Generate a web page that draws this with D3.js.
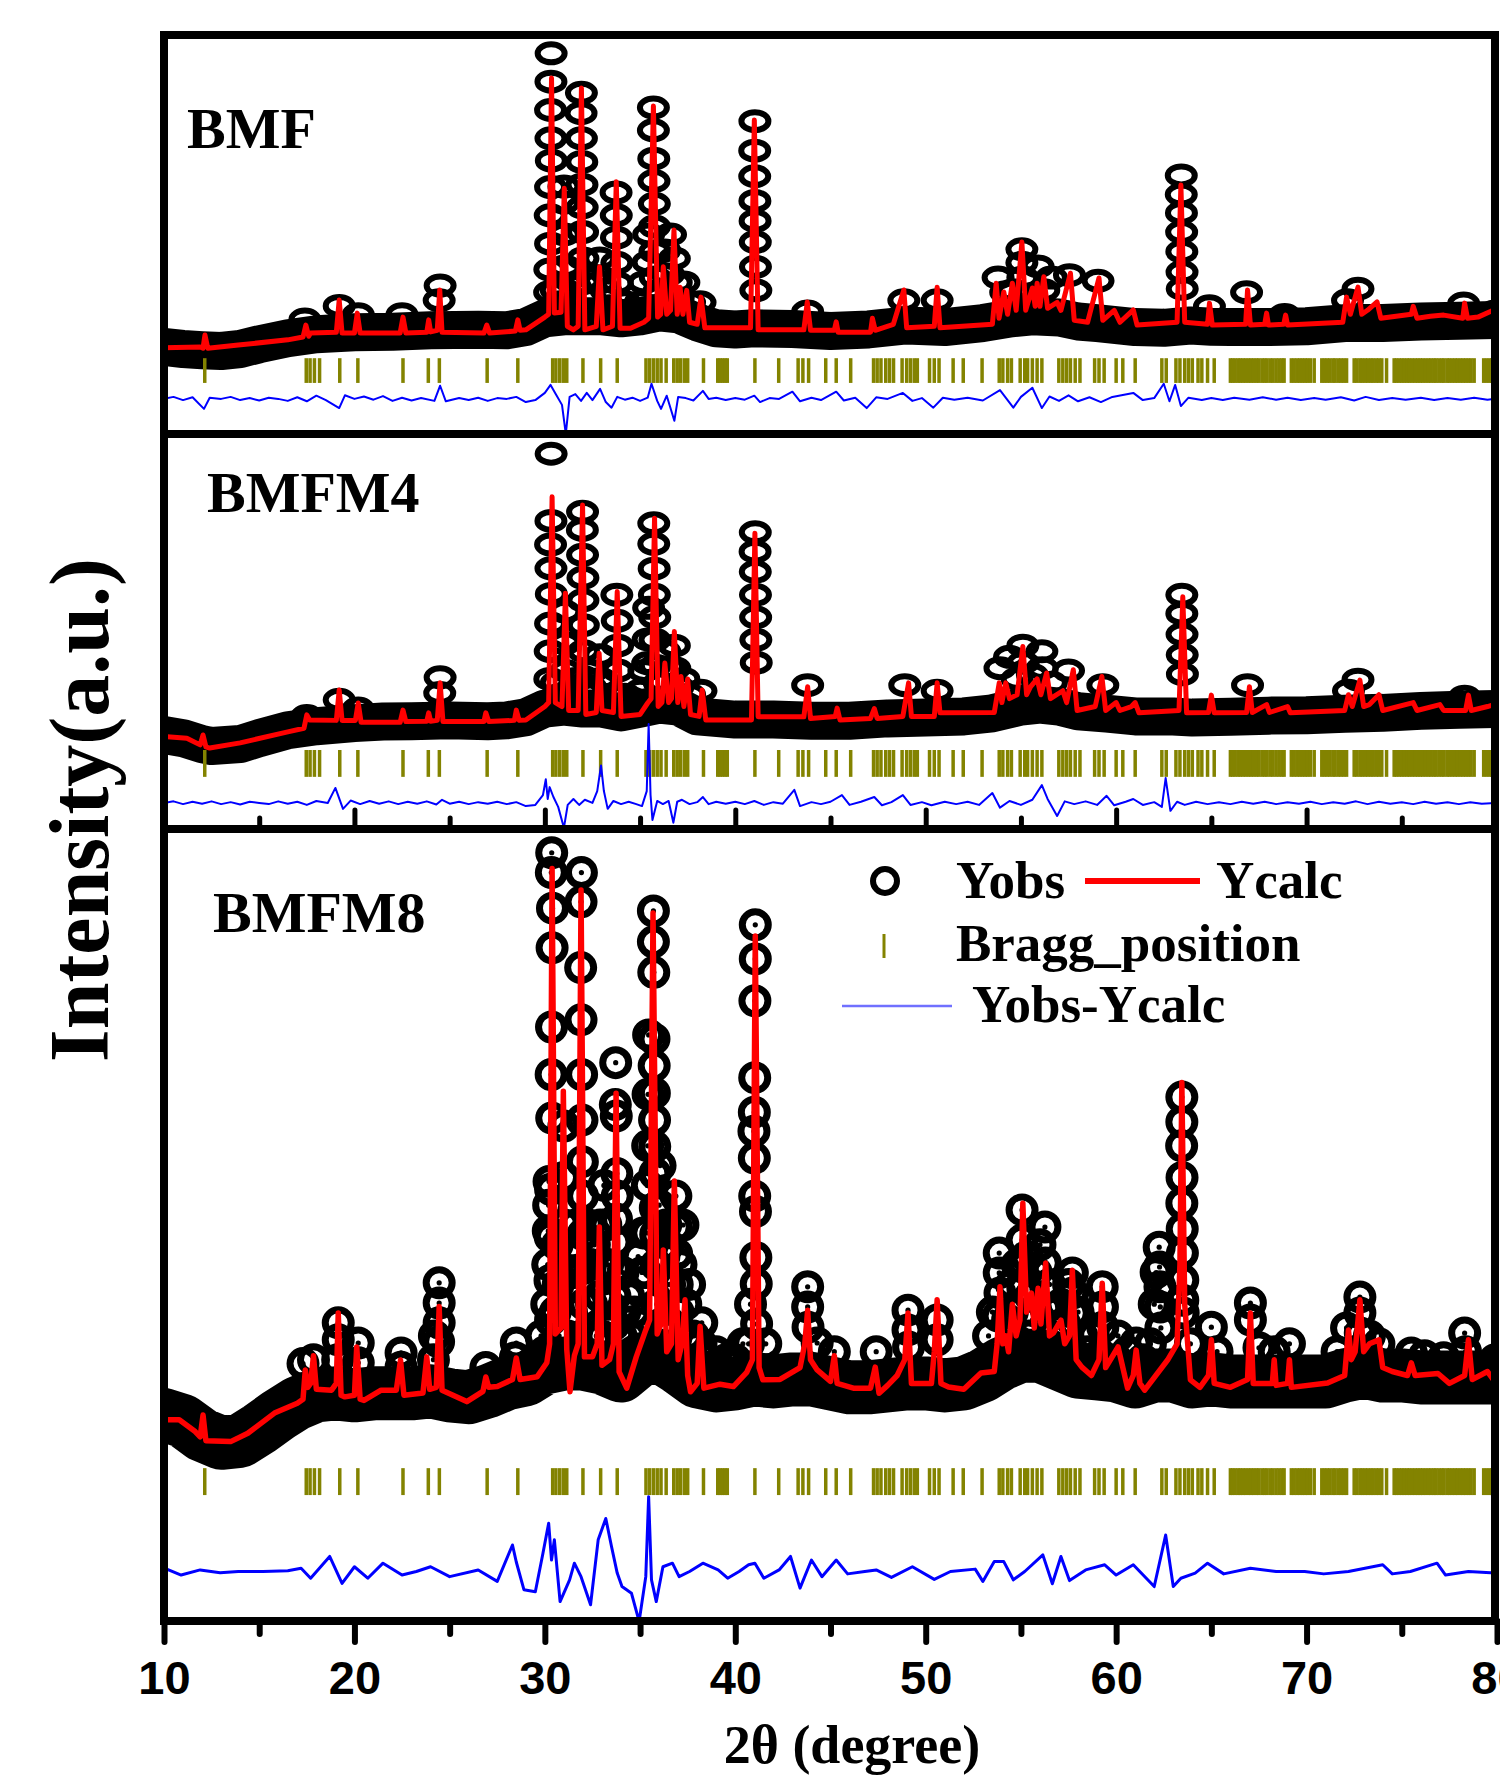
<!DOCTYPE html>
<html lang="en">
<head>
<meta charset="utf-8">
<title>Rietveld refinement: BMF, BMFM4, BMFM8</title>
<script src="https://d3js.org/d3.v7.min.js"></script>
<style>
  body { margin: 0; background: #fff; }
  .serif { font-family: "Liberation Serif", "Times New Roman", serif; font-weight: bold; }
  .axis text { font-family: "Liberation Sans", Arial, sans-serif; font-weight: bold; font-size: 47px; fill: #000; }
</style>
</head>
<body>
<script>
var width = 1500;
var height = 1776;

// Bragg reflection positions (2theta), same set drawn in every panel
var bragg = [12.14, 17.47, 17.67, 17.9, 18.17, 19.23, 20.18, 22.55, 23.88, 24.46, 26.97, 28.58,
  30.41, 30.58, 30.78, 30.97, 31.15, 32.0, 32.93, 33.8, 35.31, 35.5, 35.7, 35.9, 36.1, 36.37,
  36.77, 36.95, 37.13, 37.33, 37.5, 38.33, 39.08, 39.2, 39.33, 39.46, 39.58, 41.03, 42.28,
  43.3, 43.55, 43.85, 44.75, 45.3, 46.06, 47.26, 47.45, 47.65, 47.9, 48.1, 48.31, 48.76, 49.0,
  49.2, 49.4, 49.56, 50.2, 50.45, 50.7, 51.44, 51.97, 52.96, 53.86, 54.05, 54.3, 54.5, 54.96,
  55.2, 55.35, 55.6, 55.85, 56.1, 56.99, 57.2, 57.4, 57.6, 57.85, 58.1, 58.87, 59.1, 59.37,
  60.0, 60.35, 61.0, 62.4, 62.63, 63.14, 63.35, 63.6, 63.8, 64.0, 64.3, 64.5, 64.8, 65.15,
  66.0, 66.12, 66.25, 66.4, 66.52, 66.66, 66.8, 66.95, 67.08, 67.22, 67.37, 67.5, 67.66, 67.8,
  67.93, 68.1, 68.24, 68.4, 68.55, 68.7, 68.82, 69.2, 69.35, 69.5, 69.64, 69.78, 69.92, 70.05,
  70.2, 70.4, 70.8, 70.94, 71.08, 71.22, 71.38, 71.5, 71.66, 71.8, 71.95, 72.1, 72.5, 72.64,
  72.8, 72.93, 73.08, 73.22, 73.37, 73.5, 73.66, 73.8, 73.95, 74.2, 74.6, 74.72, 74.86, 75.0,
  75.13, 75.28, 75.4, 75.55, 75.7, 75.84, 75.97, 76.1, 76.25, 76.4, 76.53, 76.68, 76.8, 76.95,
  77.1, 77.22, 77.38, 77.5, 77.65, 77.8, 77.93, 78.08, 78.22, 78.36, 78.5, 78.64, 78.8, 79.3,
  79.45, 79.6, 79.72, 79.86, 80.0];

var xTicks = [10, 20, 30, 40, 50, 60, 70, 80];
var xMinorTicks = [15, 25, 35, 45, 55, 65, 75];

// ---------- BMF ----------
var calcBMF = [[10,21.6],[11.9,21.8],[12.05,21.5],[12.15,24.8],[12.3,21.5],[13.9,22.3],[16.5,23.6],
  [17.3,24.3],[17.45,27.3],[17.6,24.5],[17.7,25.3],[19.05,25.5],[19.2,33.6],[19.35,25.3],[20.0,25.3],
  [20.15,30.3],[20.3,25.3],[22.4,25.3],[22.55,29.3],[22.7,25.3],[23.8,25.5],[23.9,28.6],[24.0,25.6],
  [24.35,26],[24.48,36.1],[24.6,25.5],[26.8,25.3],[26.95,27.3],[27.1,25.3],[28.45,25.8],[28.58,28.6],
  [28.7,26],[29.0,26.1],[30.0,29.3],[30.2,30],[30.35,89.2],[30.5,30.3],[30.85,30.5],[31.02,61.6],
  [31.18,27],[31.5,26.1],[31.75,27],[31.92,86.7],[32.1,26.1],[32.7,27],[32.87,41.9],[33.05,26.1],
  [33.55,27],[33.75,63.2],[33.95,26.5],[34.5,26.5],[35.2,28],[35.45,29],[35.7,82.2],[35.92,29.3],
  [36.08,30],[36.22,41.9],[36.4,30],[36.6,31],[36.78,51.1],[36.95,30],[37.1,36.8],[37.25,30],
  [37.45,36],[37.6,28],[38.0,27.5],[38.2,34.3],[38.4,26.6],[40.8,26.6],[41.0,78.7],[41.2,26.1],
  [43.6,26.1],[43.78,33.1],[43.95,26],[45.2,26],[45.3,28.1],[45.4,25.5],[47.1,25.5],[47.2,29],
  [47.35,26],[48.3,27.5],[48.85,36.1],[49.0,26.6],[50.45,27],[50.6,36.8],[50.75,26.6],[53.5,27.5],
  [53.7,37.8],[53.85,29],[54.1,35.6],[54.3,30],[54.55,37.8],[54.75,31],[55.05,48.1],[55.25,31],
  [55.6,36.6],[55.75,32],[55.85,37.8],[56.0,32],[56.2,39.4],[56.4,31.5],[56.9,33],[57.1,31],
  [57.6,40.3],[57.8,28.5],[58.5,28],[59.1,39.1],[59.3,28.5],[59.9,31],[60.2,28],[60.9,31.1],
  [61.1,27.3],[63.2,28],[63.4,62.4],[63.6,28],[64.8,27.5],[64.9,32.8],[65.05,27.3],[66.8,27.5],
  [66.9,36.1],[67.05,27.3],[67.8,27.5],[67.9,30.3],[68.0,27.3],[68.8,27.5],[68.9,29.8],[69.0,27.3],
  [71.9,28],[72.1,34.3],[72.3,30],[72.7,36.8],[72.9,30],[73.2,31],[73.7,33.1],[73.9,29],[75.5,30],
  [75.6,32],[75.8,29],[76.5,29.5],[77.2,29.8],[78.2,29],[78.3,32.8],[78.45,29],[79.0,29.3],
  [79.8,31],[80,30]];
var obsBaseBMF = [[10,21.8],[11,21.3],[12,21],[13,20.8],[14,21.3],[15,22.5],[16.5,24],[18,25],
  [20,25.5],[22,25.6],[24,26],[26.5,26.1],[28,26],[29,26.8],[30,29],[31,29.5],[32,29.5],[33,29.5],
  [34,29],[35,29.5],[36,30.5],[37,30],[38,28],[39,26.5],[40,26.2],[41,26.5],[43,26.3],[45,25.8],
  [47,26.2],[49,27.2],[51,26.8],[53,27.8],[54.5,29],[55.6,29.5],[57,29.2],[58,28.2],[59,27.8],
  [61,26.8],[62.5,26.6],[63.9,27.2],[65,26.9],[66,26.8],[68,26.8],[70,27],[72,27.8],[74,27.8],
  [76,28.2],[78,28.4],[80,28.6]];
var obsPeakBMF = [[30.33,95.4],[30.32,88.3],[30.3,81.2],[30.32,74.1],[30.34,68.5],[30.3,61.9],
  [30.28,54.8],[30.3,47.7],[30.26,41.2],[30.25,35.5],[31.0,62],[31.0,58],[31.02,50],[31.05,42],
  [31.06,36],[31.92,85.5],[31.9,80.4],[31.92,74.1],[31.94,68.2],[31.95,62.5],[31.96,56.8],
  [31.98,50.6],[32.0,44],[32.02,37.8],[32.88,44],[32.9,38],[33.74,60.5],[33.75,54.8],[33.76,49.2],
  [33.78,42.9],[33.8,37.8],[35.7,81.8],[35.7,76.1],[35.72,69],[35.73,63.4],[35.75,57.7],
  [35.76,52],[35.78,45.7],[35.8,39.2],[35.45,50],[35.42,43],[36.3,46],[36.6,50],[36.8,44],
  [36.9,38],[37.3,38],[38.15,33],[41.03,78.4],[41.02,71],[41.02,64.6],[41.03,58.4],[41.04,53.4],
  [41.05,48.1],[41.06,41.9],[41.08,36],[24.5,37.2],[24.45,33.5],[19.2,32.1],[17.4,28.7],
  [20.2,30],[22.5,30],[43.8,30.7],[48.85,33.5],[50.6,33.5],[53.8,39.2],[54.2,35.5],[55.05,46.3],
  [55.05,42.9],[55.1,39.2],[55.9,42],[56.6,39.2],[57.55,39.8],[59.05,38.4],[63.42,64.8],
  [63.42,60],[63.43,55.4],[63.44,50.6],[63.45,45.7],[63.46,40.6],[63.47,36.4],[64.9,32],
  [66.85,35.5],[68.85,29.8],[72.15,33.5],[72.7,36.4],[78.25,32.7],[79.9,30.7],
  [30.6,36],[30.8,33],[31.4,33],[31.6,37],[32.4,34],[32.5,39],[33.2,36],[33.4,32],[34.2,33],
  [34.6,31],[35.0,33],[35.2,38],[36.0,36],[36.5,40],[37.0,34],[37.6,33],[37.9,30],[54.6,36],
  [56.2,36],[55.5,35]];
var diffBMF = [[10,0],[10.5,0.5],[11,-0.3],[11.5,0.4],[12.1,-2.5],[12.4,0.3],[13,0],[13.5,0.5],
  [14,-0.3],[14.5,0.2],[15,-0.4],[15.5,0.3],[16,0],[16.5,-0.5],[17,0.4],[17.5,-0.6],[18,0.8],
  [18.5,-0.3],[19.2,-2.3],[19.5,0.9],[20,0],[20.5,0.6],[21,-0.2],[21.5,0.7],[22,-0.5],[22.5,0.3],
  [23,-0.4],[23.5,0.2],[24.2,-0.5],[24.5,3.3],[24.8,-0.6],[25.5,0.2],[26,-0.3],[26.5,0.3],
  [27,-0.5],[27.5,0.2],[28,0],[28.5,0.5],[29,-0.8],[29.5,-0.3],[30.0,1.5],[30.3,3.5],[30.6,1],
  [30.9,-1.5],[31.1,-8.8],[31.3,0.5],[31.6,1.2],[31.9,-0.5],[32.2,1.5],[32.5,-0.3],[32.9,2.5],
  [33.2,-0.8],[33.5,-2.2],[33.8,0.5],[34.2,-0.2],[34.6,0.3],[35.0,-0.5],[35.4,0.3],[35.6,3.8],
  [35.9,-0.5],[36.1,-2.5],[36.4,0.8],[36.8,-5.5],[37.0,0.5],[37.4,0.2],[37.8,-0.4],[38.3,2.0],
  [38.6,0],[39,0.3],[39.5,-0.3],[40,0.2],[40.5,-0.2],[41,0.8],[41.3,-0.8],[41.8,0.2],[42.3,0],
  [43,1.8],[43.4,-0.6],[44,0.3],[44.5,-0.3],[45.3,1.8],[45.7,-0.4],[46.3,0.3],[46.9,-2.3],
  [47.4,0.4],[48,0],[48.8,1.5],[49.3,-0.5],[49.8,0.2],[50.4,-2.2],[50.9,0.3],[51.5,-0.2],
  [52.2,0.3],[53,-0.4],[53.9,2.2],[54.6,-2.2],[55.0,0.5],[55.6,2.8],[56.1,-2.3],[56.5,0.6],
  [57,-0.5],[57.5,0.9],[58,-0.6],[58.6,0.4],[59.2,-0.8],[59.8,0.5],[60.9,1.5],[61.4,-0.3],
  [62,0.2],[62.5,3.8],[62.8,-0.6],[63.1,3.5],[63.4,-1.8],[63.8,0.3],[64.5,-0.3],[65,0.2],
  [65.6,-0.3],[66.2,0.3],[67,-0.2],[67.7,0.4],[68.4,-0.2],[69,0.3],[69.7,-0.3],[70.4,0.2],
  [71,-0.2],[71.8,0.4],[72.5,-0.4],[73.1,0.5],[73.8,-0.3],[74.5,0.2],[75.2,-0.2],[76,0.3],
  [76.7,-0.3],[77.4,0.2],[78.1,-0.2],[78.8,0.3],[79.5,-0.2],[80,0.1]];

// ---------- BMFM4 ----------
var calcBMFM4 = [[10,23.4],[11.2,23],[11.9,21.3],[12.05,23.8],[12.2,20.8],[12.4,20.5],[14.0,21.8],
  [16.5,24.6],[17.35,25.5],[17.5,28.9],[17.65,27.6],[19.05,27.5],[19.2,35.2],[19.35,27.5],
  [20.05,27.5],[20.2,31.9],[20.35,27],[22.4,27],[22.55,30.1],[22.7,27.2],[23.8,27.3],[23.9,29.4],
  [24.0,27.3],[24.35,27.5],[24.5,37],[24.65,27.2],[26.8,27.2],[26.9,29.4],[27.05,27.2],[28.4,27.5],
  [28.5,30.1],[28.65,27.5],[29.0,27.6],[30.0,31],[30.2,32],[30.38,84.1],[30.55,32],[30.9,31],
  [31.08,59.7],[31.25,30],[31.75,30],[31.98,82],[32.15,29],[32.7,29.5],[32.85,44.5],[33.0,30],
  [33.6,29.5],[33.8,60.1],[34.0,28.5],[35.0,29],[35.4,31.9],[35.58,33],[35.76,78.7],[35.95,31],
  [36.15,32],[36.3,42],[36.5,32],[36.65,33],[36.8,50],[36.98,32],[37.15,38.6],[37.3,31],[37.5,38],
  [37.65,29],[38.1,28.5],[38.26,35.2],[38.45,27.6],[40.85,27.6],[41.03,74.9],[41.2,28.4],
  [43.6,28.4],[43.8,36],[43.95,28],[45.25,28.5],[45.35,30.6],[45.5,27.6],[47.1,28],[47.3,30.5],
  [47.45,28],[48.8,28.5],[49.1,37],[49.25,28.5],[50.45,28.5],[50.6,37],[50.75,29.4],[53.6,29.5],
  [53.86,37],[54.0,32],[54.2,37],[54.4,33],[54.8,34],[55.1,46.2],[55.3,34],[55.5,36],[55.85,38],
  [56.05,34],[56.35,39.5],[56.55,33],[57.2,35],[57.4,32],[57.75,40.3],[57.95,30],[58.9,31],
  [59.25,38.6],[59.45,30],[60.0,32],[60.2,30],[60.8,31],[61.0,32],[61.2,29.4],[63.3,30],
  [63.5,58.8],[63.7,29.4],[64.85,29.5],[65.0,33.9],[65.15,29.4],[66.85,29.5],[67.0,36],
  [67.15,29.5],[67.9,31.5],[68.05,29.5],[69.0,31],[69.15,29.4],[72.0,30],[72.2,34],[72.4,31],
  [72.8,37.7],[73.0,31],[73.3,31.5],[73.8,34],[74.0,30],[75.6,32],[75.8,30],[77.0,31.5],[77.2,30],
  [78.35,30],[78.5,33.9],[78.65,30],[79.5,31],[79.85,31.5],[80,31]];
var obsBaseBMFM4 = [[10,23.8],[11,23],[12,21.5],[12.5,21],[14,21.5],[15,23],[16.5,25],[18,26],
  [20,26.8],[21.5,27.2],[23,27.3],[25,27.5],[27,27.3],[28,27.5],[29,28.3],[30,30.5],[31,31],
  [32,30.5],[33,30.5],[34,29.5],[35,30.5],[36,31.5],[37,31],[38,28.5],[40,27.7],[42,27.7],
  [44,27.4],[46,27.4],[48,28],[50,28.2],[52,28.5],[53.5,29.3],[55,31],[56,31.5],[57,31],[58,29.8],
  [59.5,29.2],[61,28.5],[63,28.5],[64,28.2],[66,28.4],[68,28.7],[70,28.8],[72,29.2],[74,29.4],
  [76,29.9],[78,30.2],[80,30.4]];
var obsPeakBMFM4 = [[30.33,95],[30.32,78],[30.3,72],[30.32,66],[30.34,59.5],[30.3,52],[30.28,45],
  [30.26,38],[31.05,55],[31.05,47],[31.1,40],[31.98,80.3],[31.97,75.7],[31.98,69.4],[32.0,63.6],
  [32.0,57.9],[32.02,51.6],[32.03,45],[32.05,38.4],[32.88,44],[32.92,38],[33.78,59.3],[33.8,52.7],
  [33.82,46.4],[33.84,40.1],[35.72,77.4],[35.72,72.2],[35.74,65.9],[35.75,59.3],[35.77,53.6],
  [35.78,47.9],[35.8,41.3],[35.45,56],[35.42,48],[35.4,42],[36.3,45],[36.8,46.4],[36.82,40.7],
  [37.3,38],[38.2,35],[41.05,75.1],[41.04,70.2],[41.05,65.1],[41.06,59.3],[41.07,53.6],
  [41.08,47.9],[41.1,42.1],[43.8,36.4],[19.2,32.7],[24.5,38.4],[24.48,34.4],[17.5,28.6],
  [20.2,30.5],[48.9,36.4],[50.6,35],[53.9,40.7],[54.4,43.6],[55.1,46.4],[55.12,42.1],[56.1,45],
  [56.12,40.7],[57.5,40.1],[59.3,36.4],[63.45,59.3],[63.45,54.5],[63.46,49.3],[63.47,44.1],
  [63.48,39.2],[66.9,36.4],[72.7,37.8],[72.2,35],[78.3,33.5],[80,32],
  [30.6,37],[30.8,34],[31.4,35],[31.6,38],[32.4,36],[32.5,40],[33.2,37],[33.4,34],[34.2,34],
  [34.6,33],[35.0,35],[35.2,40],[36.0,37],[36.5,41],[37.0,36],[37.6,34],[54.8,38],[55.6,39],
  [56.6,37]];
var diffBMFM4 = [[10,0],[10.5,0.4],[11,-0.3],[11.5,0.3],[12,-0.2],[12.5,0.4],[13,-0.3],[13.5,0.2],
  [14,-0.4],[14.5,0.3],[15,0],[15.5,-0.3],[16,0.4],[16.5,-0.2],[17,0.3],[17.5,-0.5],[18,0.5],
  [18.6,0],[19.0,3.8],[19.4,-1.5],[19.8,0.6],[20.3,-0.3],[20.8,0.5],[21.3,-0.2],[21.8,0.4],
  [22.3,-0.3],[22.8,0.3],[23.3,-0.2],[23.8,0.4],[24.3,-0.4],[24.6,0.8],[25,-0.2],[25.5,0.3],
  [26,-0.3],[26.5,0.2],[27,-0.2],[27.5,0.3],[28,-0.3],[28.5,0.2],[29,-0.8],[29.5,-0.5],[29.9,2],
  [30.05,6],[30.15,1],[30.25,4],[30.45,1.5],[30.7,-1],[31.0,-6.3],[31.2,-0.5],[31.5,1],
  [31.8,-0.5],[32.1,0.8],[32.5,0],[32.75,3],[32.95,9.5],[33.1,3],[33.3,-1.5],[33.6,0.5],[34,-0.3],
  [34.4,0.3],[34.8,-0.3],[35.1,-0.8],[35.35,3],[35.45,20],[35.55,2],[35.65,-4.3],[35.9,0.5],
  [36.2,-0.3],[36.5,0.5],[36.75,-5],[36.95,0.3],[37.2,0.8],[37.6,-0.3],[38.0,0.2],[38.3,1.5],
  [38.6,-0.3],[39,0.3],[39.5,-0.2],[40,0.3],[40.5,-0.3],[41,0.5],[41.5,-0.5],[42,0.2],[42.5,-0.2],
  [43.1,3.3],[43.4,-0.8],[44,0.2],[44.5,-0.3],[45,0.3],[45.6,2],[46,-0.5],[46.6,0.3],[47.3,1.5],
  [47.7,-0.6],[48.2,0.2],[48.8,2],[49.2,-0.5],[49.8,0.2],[50.3,-0.6],[51,0.3],[51.6,-0.3],
  [52.2,0.3],[52.8,-0.5],[53.5,2.5],[53.9,-1.2],[54.4,0.5],[55,-0.5],[55.6,0.8],[56.1,4.5],
  [56.4,1],[56.9,-3.3],[57.3,0.4],[57.8,-0.3],[58.4,0.4],[59.0,-0.5],[59.5,1.8],[59.9,-0.6],
  [60.5,0.3],[60.9,1],[61.4,-0.5],[62,0.2],[62.4,-1],[62.6,6.3],[62.85,-2],[63.2,0.3],[63.6,-0.5],
  [64.2,0.3],[64.8,-0.3],[65.4,0.2],[66,-0.3],[66.6,0.3],[67.2,-0.2],[67.8,0.3],[68.4,-0.3],
  [69,0.2],[69.6,-0.2],[70.2,0.3],[70.8,-0.3],[71.4,0.2],[72,-0.2],[72.6,0.4],[73.2,-0.3],
  [73.8,0.3],[74.4,-0.2],[75,0.2],[75.6,-0.3],[76.2,0.3],[76.8,-0.2],[77.4,0.2],[78,-0.3],
  [78.6,0.2],[79.2,-0.2],[80,0]];

// ---------- BMFM8 ----------
var calcBMFM8 = [[10.0,50.8],[10.8,50.8],[11.6,48],[11.9,46.5],[12.05,52],[12.2,45.5],[13.5,45.3],
  [14.4,47.4],[15.8,52.5],[17.0,55],[17.3,56],[17.42,63.4],[17.55,59],[17.7,60],[17.85,67],
  [18.0,58.5],[18.8,58.3],[19.05,60],[19.15,77.8],[19.3,57],[19.5,56.6],[20.0,57],[20.12,69.2],
  [20.3,56],[20.5,55.7],[21.4,58.3],[22.2,58.3],[22.42,65.9],[22.6,57],[23.6,57.6],[23.8,66.7],
  [23.95,58.5],[24.3,59],[24.45,79.4],[24.6,58.3],[25.9,55.4],[26.75,58],[26.9,61.6],[27.05,59],
  [27.5,59.2],[28.3,61],[28.5,66.4],[28.7,61],[29.6,61.7],[30.1,65.2],[30.25,70],[30.38,190],
  [30.55,72.5],[30.85,74],[30.97,133.8],[31.15,68.6],[31.32,57.9],[31.55,67],[31.75,70],
  [31.9,184.6],[32.08,66.7],[32.5,66.7],[32.75,70],[32.86,99.5],[33.0,64.6],[33.4,66],[33.6,70],
  [33.74,133.3],[33.9,62.9],[34.3,58.8],[34.8,66.7],[35.3,73.5],[35.5,76],[35.68,178.8],
  [35.9,72.5],[36.1,75],[36.22,93.7],[36.4,68],[36.65,70],[36.8,111.1],[37.0,66],[37.2,70],
  [37.36,81.1],[37.5,62],[37.65,57.9],[38.0,60],[38.15,74.4],[38.35,58.8],[39.2,59.8],[39.9,59.2],
  [40.6,62.8],[40.9,66],[41.05,173],[41.25,64],[41.45,60.9],[42.35,61],[43.4,64],[43.65,70],
  [43.8,78.5],[43.95,66],[44.3,63.4],[45.0,60.5],[45.2,67],[45.35,60],[46.2,58.8],[47.1,58.8],
  [47.35,64.1],[47.55,57.5],[48.0,59.5],[48.5,62],[48.9,66],[49.07,77.8],[49.25,60],[50.3,60],
  [50.45,68],[50.6,81.1],[50.8,60],[51.2,59.1],[52.0,58.5],[52.9,62.6],[53.6,63],[53.75,70],
  [53.9,84.4],[54.05,70],[54.2,72],[54.35,68],[54.55,80],[54.75,72],[54.95,76],[55.1,105.5],
  [55.3,78],[55.55,82.8],[55.7,74],[55.9,84],[56.05,75],[56.3,90.4],[56.5,72],[56.7,72.7],
  [57.1,76],[57.3,70],[57.55,72],[57.7,88.6],[57.9,66],[58.2,64.1],[58.7,62],[59.1,66],
  [59.27,85.3],[59.45,64],[60.1,69.2],[60.6,58.8],[60.9,62],[61.05,68.4],[61.25,60],[61.5,58.3],
  [62.7,65.9],[63.2,70],[63.35,90],[63.45,136],[63.6,80],[63.9,60.9],[64.4,59],[64.85,62],
  [65.0,71],[65.15,60],[66.0,59],[66.9,61],[67.05,77.8],[67.2,60],[68.2,60],[68.3,66],
  [68.4,59.5],[69.0,60],[69.1,66],[69.2,59],[71.1,60.1],[72.0,62],[72.2,73.5],[72.35,66],
  [72.55,68],[72.8,81.1],[73.0,68],[73.3,70],[73.8,71],[74.0,64],[74.5,63],[75.3,62],[75.5,65.2],
  [75.7,62],[76.9,62.5],[77.5,60],[78.3,62],[78.5,71],[78.7,61],[79.5,63],[79.8,61],[80,60.9]];
var obsBaseBMFM8 = [[10,52],[11,50.5],[12,47],[13,45],[14,45.5],[15,48.5],[16,52],[17,55],
  [18,57],[19,57.5],[20,57],[21,57.5],[22,57.5],[23,57.5],[24,58],[25,57],[26,56.5],[27,58],
  [28,60],[29,61],[30,64],[31,65],[32,65],[33,64],[34,62],[35,66],[36,67],[37,64],[38,60.5],
  [39,59.5],[40,60],[41,61],[42,60.5],[43,61],[44,61],[45,60],[46,59],[47,59],[48,59.5],[49,60],
  [50,60],[51,59.5],[52,60],[53,62],[54,65],[55,67],[56,67],[57,65],[58,63],[59,62.5],[60,62],
  [61,60.5],[62,62],[63,62],[64,60.5],[65,61],[66,60.5],[67,60.5],[68,60.5],[69,60.5],
  [70,60.5],[71,60.5],[72,62],[73,63],[74,62],[75,62],[76,61.5],[77,61.5],[78,61.5],[79,61.5],
  [80,61.5]];
var obsPeakBMFM8 = [[17.3,65],[17.85,66],[19.15,75.3],[19.15,71],[19.12,66],[20.2,70.2],
  [20.2,65.2],[22.45,67.7],[22.45,64.1],[24.15,66],[24.2,72],[24.42,70.5],[24.45,75.3],
  [24.45,80.3],[24.45,85.4],[26.9,64],[28.45,66.5],[28.5,70.2],
  [30.1,80],[30.15,90],[30.18,98.5],[30.2,105],[30.22,111],
  [30.36,194],[30.34,189],[30.4,180],[30.38,170],[30.35,150],[30.33,138],[30.36,127],[30.3,109],
  [30.28,97],[30.27,86],[30.3,76],[31.0,125],[30.98,112],[31.02,100],[31.05,88],[30.7,85],
  [30.65,95],[31.92,189],[31.9,181.6],[31.88,165],[31.9,151.8],[31.93,138],[31.95,126.5],
  [31.97,116],[31.98,107.3],[32.0,97.6],[32.02,89],[32.05,80],[31.4,78],[31.55,88],[32.4,90],
  [32.45,80],[32.9,100],[32.95,90],[32.88,82],[33.72,141],[33.7,130.4],[33.75,127.5],[33.78,113],
  [33.8,107.3],[33.76,101.5],[33.74,95.7],[33.7,89],[33.68,82],[33.65,75],[33.3,90],[33.35,80],
  [34.2,78],[34.5,72],[35.1,88],[35.15,98],[35.45,148],[35.42,133],[35.4,120],[35.38,110],
  [35.35,98],[35.3,88],[35.7,179.3],[35.7,171.5],[35.72,163.8],[35.73,147],[35.74,140.2],
  [35.75,133.3],[35.76,126.5],[35.77,119.8],[35.78,113],[35.8,104.3],[35.82,97.6],[35.85,89.9],
  [35.88,80],[36.0,105],[36.05,115],[36.25,92],[36.3,85],[36.5,95],[36.55,85],[36.88,107.3],
  [36.9,99.5],[36.92,92.7],[36.95,85],[37.0,78],[37.4,80],[37.45,72],[37.8,72],[38.24,75.3],
  [38.2,70],[40.7,70],[40.8,80],[41.05,175.8],[41.05,167.2],[41.03,156.6],[41.02,137.2],
  [41.0,128.5],[40.98,123.7],[41.0,116.9],[41.02,107.3],[41.06,103.4],[41.08,91.8],[41.1,85.1],
  [41.12,75],[41.6,70],[43.8,84.4],[43.8,79.3],[43.82,74.2],[44.3,70.2],[45.2,68],[47.4,68],
  [49.07,78.5],[49.07,73.5],[49.1,69.2],[50.6,76],[50.6,71],[53.5,78],[53.86,92.9],[53.86,87.9],
  [53.9,82.8],[53.8,77],[54.5,85],[54.55,78],[55.06,103.8],[55.06,96.2],[55.08,89.4],[55.1,84],
  [55.5,82],[55.6,76],[56.26,99.5],[56.28,90.4],[56.3,84.4],[56.3,79],[56.8,78],[57.1,80],
  [57.7,87.9],[57.72,82.8],[57.75,77.8],[58.2,72],[58.8,72],[59.27,84.4],[59.28,79.3],
  [59.3,74.2],[60.1,72],[61.05,70.2],[62.26,94.4],[62.28,89.4],[62.3,84.4],[62.32,79.3],
  [62.35,74],[63.45,132.3],[63.45,126],[63.44,120],[63.46,112],[63.45,105.5],[63.47,99],
  [63.48,92.9],[63.5,86.1],[63.5,81],[63.52,77.8],[63.9,70],[65.0,74.2],[65.3,68],[67.05,80.3],
  [67.05,76],[67.5,69],[68.3,68],[69.1,70],[71.6,68],[72.1,74],[72.8,81.8],[72.8,77.8],
  [72.82,72.7],[73.3,72],[73.8,70],[75.5,67.7],[76.2,67],[77.2,66.5],[78.3,72.7],[78.35,68],
  [79.9,66],
  [29.8,72],[30.0,68],[30.55,78],[30.75,72],[31.2,72],[31.3,85],[31.45,95],[31.6,100],[32.2,72],
  [32.3,100],[32.6,95],[32.7,72],[33.0,72],[33.1,110],[33.2,100],[34.0,72],[34.1,88],[34.4,82],
  [34.7,78],[34.9,92],[35.05,75],[36.1,75],[36.35,100],[36.6,75],[37.15,90],[37.25,100],
  [37.6,85],[38.0,65],[38.5,66],[39.0,68],[39.5,66],[40.0,66],[40.4,70],
  [53.3,72],[54.3,76],[54.8,90],[55.3,92],[55.4,72],[55.8,88],[56.0,95],[56.5,85],[56.6,72],
  [57.3,75],[57.5,85],[58.0,78],[58.5,68],[60.6,68],[61.4,66],[61.8,70],[62.0,80],[62.1,88]];
var diffBMFM8 = [[10.05,0.4],[10.9,-1.3],[11.9,0],[12.95,-0.7],[13.9,-0.4],[15.2,-0.4],[16.5,-0.2],
  [17.2,0.4],[17.7,-2.1],[18.7,3.4],[19.35,-3.4],[20.0,0.8],[20.7,-2.1],[21.5,1.7],[22.5,-1.3],
  [23.25,-0.4],[24.0,0.8],[25.0,-1.7],[26.5,0],[27.5,-2.9],[28.3,6.3],[28.5,2],[28.9,-5],
  [29.5,-5.5],[29.9,4.2],[30.2,11.8],[30.35,2.5],[30.5,7.6],[30.8,-8],[31.3,-2.5],[31.55,1.7],
  [31.9,-1.7],[32.4,-8.8],[32.8,7.6],[33.2,13],[33.5,5.9],[33.8,-0.8],[34.05,-4.2],[34.55,-5.9],
  [34.95,-13],[35.3,-1.7],[35.45,18.5],[35.6,-2.5],[35.85,-8],[36.2,0.8],[36.7,1.7],[37.05,-1.7],
  [37.6,-0.4],[38.3,1.7],[39.1,0],[39.6,-2.1],[40.2,-0.4],[40.7,1.3],[41.03,1.7],[41.5,-2.1],
  [42.3,0],[42.9,3.4],[43.4,-4.6],[44.0,2.5],[44.55,-1.7],[45.3,2.5],[45.9,-1],[46.8,-0.4],
  [47.4,0],[48.2,-1.9],[49.3,0.8],[50.45,-2.4],[51.3,-0.4],[52.6,0.2],[53.0,-2.9],[53.6,2.1],
  [54.1,2.1],[54.6,-2.5],[55.2,-0.4],[56.15,3.8],[56.65,-3.5],[57.1,3.4],[57.55,-2.7],[58.4,0],
  [59.4,1.3],[60.0,-1.3],[60.9,1.3],[62.0,-4.2],[62.6,8.8],[63.0,-4.2],[63.4,-2.1],[64.15,-0.8],
  [64.8,1.7],[65.65,-1],[67.05,0.4],[68.4,-0.4],[69.9,-0.4],[70.9,-1],[72.2,-0.4],[74.0,1.3],
  [74.5,-1],[75.45,-0.4],[76.85,1.7],[77.3,-1.3],[78.5,-0.4],[80,-0.8]];

// panel table built from the arrays above (layout values in px, intensities in a.u.)
var panels = [
  {name: "BMF", calc: calcBMF, base: obsBaseBMF, peaks: obsPeakBMF, diff: diffBMF,
   top: 35, bottom: 434, ymax: 100, diffZero: 8.8, braggLo: 12.8, braggHi: 19.0,
   band: 38, round: false, redW: 5, blueW: 2, labelX: 187, labelY: 148},
  {name: "BMFM4", calc: calcBMFM4, base: obsBaseBMFM4, peaks: obsPeakBMFM4, diff: diffBMFM4,
   top: 434, bottom: 829, ymax: 100, diffZero: 6.6, braggLo: 13.2, braggHi: 20.0,
   band: 38, round: false, redW: 5, blueW: 2, labelX: 207, labelY: 512},
  {name: "BMFM8", calc: calcBMFM8, base: obsBaseBMFM8, peaks: obsPeakBMFM8, diff: diffBMFM8,
   top: 829, bottom: 1621, ymax: 200, diffZero: 12.9, braggLo: 31.8, braggHi: 38.6,
   band: 54, round: true, redW: 5.5, blueW: 3, labelX: 213, labelY: 932}
];

var left = 164, right = 1495;

var svg = d3.select("body").append("svg")
  .attr("width", width)
  .attr("height", height);

svg.append("rect").attr("width", width).attr("height", height).attr("fill", "#fff");

var x = d3.scaleLinear().domain([10, 80]).range([164, 1497]);

panels.forEach(function(p, i) {
  var y = d3.scaleLinear().domain([0, p.ymax]).range([p.bottom, p.top]);
  var line = d3.line().x(function(d) { return x(d[0]); }).y(function(d) { return y(d[1]); });

  svg.append("clipPath").attr("id", "clip" + i)
    .append("rect")
    .attr("x", left).attr("y", p.top)
    .attr("width", right - left).attr("height", p.bottom - p.top);

  var g = svg.append("g").attr("clip-path", "url(#clip" + i + ")");

  // observed points: dense background band
  g.append("path")
    .datum(p.base)
    .attr("d", line)
    .attr("fill", "none")
    .attr("stroke", "#000")
    .attr("stroke-width", p.band)
    .attr("stroke-linejoin", "round")
    .attr("stroke-linecap", "round");

  // observed points on the peaks, open circles
  if (p.round) {
    g.selectAll("circle.obs").data(p.peaks).enter()
      .append("circle")
      .attr("class", "obs")
      .attr("cx", function(d) { return x(d[0]); })
      .attr("cy", function(d) { return y(d[1]); })
      .attr("r", 13)
      .attr("fill", "none")
      .attr("stroke", "#000")
      .attr("stroke-width", 7);
    g.selectAll("circle.dot").data(p.peaks).enter()
      .append("circle")
      .attr("class", "dot")
      .attr("cx", function(d) { return x(d[0]); })
      .attr("cy", function(d) { return y(d[1]); })
      .attr("r", 2.6)
      .attr("fill", "#000");
  } else {
    g.selectAll("ellipse.obs").data(p.peaks).enter()
      .append("ellipse")
      .attr("class", "obs")
      .attr("cx", function(d) { return x(d[0]); })
      .attr("cy", function(d) { return y(d[1]); })
      .attr("rx", 13.5)
      .attr("ry", 9)
      .attr("fill", "none")
      .attr("stroke", "#000")
      .attr("stroke-width", 6);
  }

  // calculated pattern
  g.append("path")
    .datum(p.calc)
    .attr("d", line)
    .attr("fill", "none")
    .attr("stroke", "#ff0000")
    .attr("stroke-width", p.redW)
    .attr("stroke-linejoin", "round");

  // Bragg positions
  g.selectAll("line.bragg").data(bragg).enter()
    .append("line")
    .attr("x1", function(d) { return x(d); })
    .attr("x2", function(d) { return x(d); })
    .attr("y1", y(p.braggLo))
    .attr("y2", y(p.braggHi))
    .attr("stroke", "#838300")
    .attr("stroke-width", 3.5);

  // difference curve
  g.append("path")
    .datum(p.diff)
    .attr("d", d3.line()
      .x(function(d) { return x(d[0]); })
      .y(function(d) { return y(d[1] + p.diffZero); }))
    .attr("fill", "none")
    .attr("stroke", "#0000ff")
    .attr("stroke-width", p.blueW)
    .attr("stroke-linejoin", "round");

  svg.append("text")
    .attr("class", "serif")
    .attr("x", p.labelX)
    .attr("y", p.labelY)
    .attr("font-size", 58)
    .text(p.name);
});

// frame and panel separators
svg.append("rect")
  .attr("x", left).attr("y", 35)
  .attr("width", right - left).attr("height", 1621 - 35)
  .attr("fill", "none").attr("stroke", "#000").attr("stroke-width", 8);
[434, 829].forEach(function(yy) {
  svg.append("line")
    .attr("x1", left).attr("x2", right)
    .attr("y1", yy).attr("y2", yy)
    .attr("stroke", "#000").attr("stroke-width", 8);
});

// bottom axis
var xAxis = svg.append("g").attr("class", "axis").attr("transform", "translate(0,1621)")
  .call(d3.axisBottom(x).tickValues(xTicks).tickSize(21).tickPadding(16));
var xMinor = svg.append("g").attr("class", "axis").attr("transform", "translate(0,1621)")
  .call(d3.axisBottom(x).tickValues(xMinorTicks).tickSize(13).tickFormat(""));
// ticks on the lower separator, pointing up
var midAxis = svg.append("g").attr("class", "axis").attr("transform", "translate(0,829)")
  .call(d3.axisTop(x).tickValues(xTicks.slice(0, 7)).tickSize(19).tickFormat(""));
var midMinor = svg.append("g").attr("class", "axis").attr("transform", "translate(0,829)")
  .call(d3.axisTop(x).tickValues(xMinorTicks).tickSize(11).tickFormat(""));

[xAxis, xMinor, midAxis, midMinor].forEach(function(a, k) {
  a.select(".domain").remove();
  a.selectAll("line")
    .attr("stroke", "#000")
    .attr("stroke-width", k < 2 ? 6 : 5)
    .attr("stroke-linecap", "round");
});
xAxis.selectAll("text").attr("dy", null).attr("y", 73);

// axis titles
svg.append("text")
  .attr("class", "serif")
  .attr("x", 852).attr("y", 1763)
  .attr("text-anchor", "middle")
  .attr("font-size", 54)
  .text("2θ (degree)");

svg.append("text")
  .attr("class", "serif")
  .attr("transform", "translate(108,810) rotate(-90)")
  .attr("text-anchor", "middle")
  .attr("font-size", 84)
  .text("Intensity(a.u.)");

// legend
var leg = svg.append("g").attr("class", "serif").attr("font-size", 53);
leg.append("circle").attr("cx", 885).attr("cy", 881).attr("r", 12)
  .attr("fill", "none").attr("stroke", "#000").attr("stroke-width", 6);
leg.append("text").attr("x", 956).attr("y", 898).text("Yobs");
leg.append("line").attr("x1", 1085).attr("x2", 1200).attr("y1", 881).attr("y2", 881)
  .attr("stroke", "#ff0000").attr("stroke-width", 6);
leg.append("text").attr("x", 1216).attr("y", 898).text("Ycalc");
leg.append("line").attr("x1", 884).attr("x2", 884).attr("y1", 934).attr("y2", 958)
  .attr("stroke", "#838300").attr("stroke-width", 3);
leg.append("text").attr("x", 956).attr("y", 961).text("Bragg_position");
leg.append("line").attr("x1", 842).attr("x2", 952).attr("y1", 1006).attr("y2", 1006)
  .attr("stroke", "#7070ff").attr("stroke-width", 2.5);
leg.append("text").attr("x", 972).attr("y", 1022).text("Yobs-Ycalc");
</script>
</body>
</html>
